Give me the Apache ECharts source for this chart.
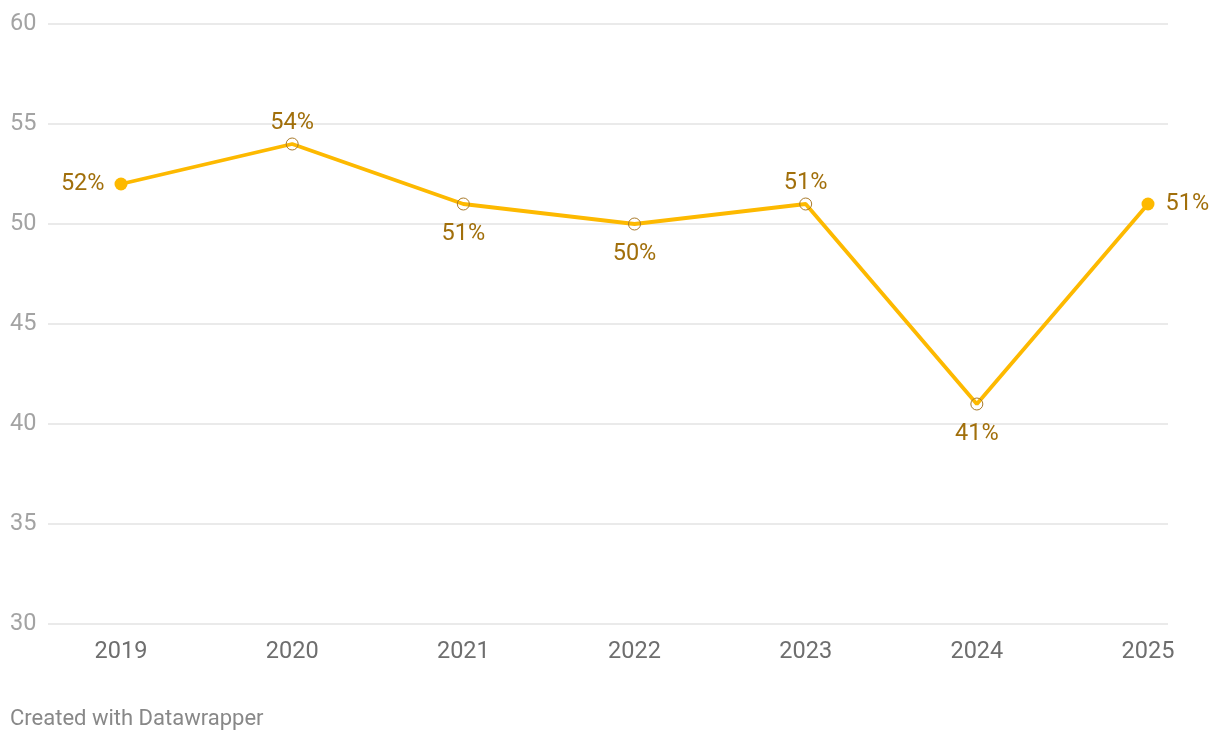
<!DOCTYPE html>
<html>
<head>
<meta charset="utf-8">
<script src="https://cdn.jsdelivr.net/npm/echarts@6/dist/echarts.min.js"></script>
<style>
html,body{margin:0;padding:0;background:#fff;}
#chart{width:1220px;height:740px;}
</style>
</head>
<body>
<div id="chart"></div>
<script>
const years = [2019, 2020, 2021, 2022, 2023, 2024, 2025];
const values = [52, 54, 51, 50, 51, 41, 51];
const labelPositions = ['left', 'top', 'bottom', 'bottom', 'top', 'bottom', 'right'];
const yTicks = [30, 35, 40, 45, 50, 55, 60];

const FONT = 'Roboto';
const LINE = '#fdb900';
const LABEL = '#a16f0b';
const DIST = { left: 10, right: 11, top: 2, bottom: 12 };

const data = years.map((y, i) => {
  const endpoint = (i === 0 || i === years.length - 1);
  return {
    value: [y, values[i]],
    symbol: 'circle',
    symbolSize: endpoint ? 13 : 12,
    itemStyle: endpoint
      ? { color: LINE, borderWidth: 0 }
      : { color: 'rgba(0,0,0,0)', borderColor: '#a97a2a', borderWidth: 1 },
    label: { position: labelPositions[i], distance: DIST[labelPositions[i]] }
  };
});

const chart = echarts.init(document.getElementById('chart'), null, { renderer: 'canvas' });
chart.setOption({
  animation: false,
  backgroundColor: '#ffffff',
  textStyle: { fontFamily: FONT },
  grid: { left: 48, right: 52, top: 24, bottom: 116 },
  xAxis: {
    type: 'value',
    min: 2018.5735,
    max: 2025.1168,
    axisLine: { show: false },
    axisTick: { show: false },
    splitLine: { show: false },
    axisLabel: {
      customValues: years,
      formatter: v => String(Math.round(v)),
      color: '#6e6e6e',
      fontFamily: FONT,
      fontSize: 23.5,
      margin: 16
    }
  },
  yAxis: {
    type: 'value',
    min: 30,
    max: 60,
    interval: 5,
    axisLine: { show: false },
    axisTick: { show: false },
    splitLine: { lineStyle: { color: '#e3e3e3', width: 1.5 } },
    axisLabel: {
      customValues: yTicks,
      color: '#a3a3a3',
      fontFamily: FONT,
      fontSize: 23.5,
      align: 'left',
      margin: 38
    }
  },
  series: [{
    type: 'line',
    data: data,
    lineStyle: { color: LINE, width: 3.8 },
    itemStyle: { color: LINE },
    z: 3,
    label: {
      show: true,
      formatter: p => p.value[1] + '%',
      color: LABEL,
      fontFamily: FONT,
      fontSize: 23.5
    }
  }],
  graphic: [{
    type: 'text',
    left: 10,
    top: 708,
    style: {
      text: 'Created with Datawrapper',
      fill: '#888888',
      font: '22px Roboto'
    }
  }]
});
</script>
</body>
</html>
